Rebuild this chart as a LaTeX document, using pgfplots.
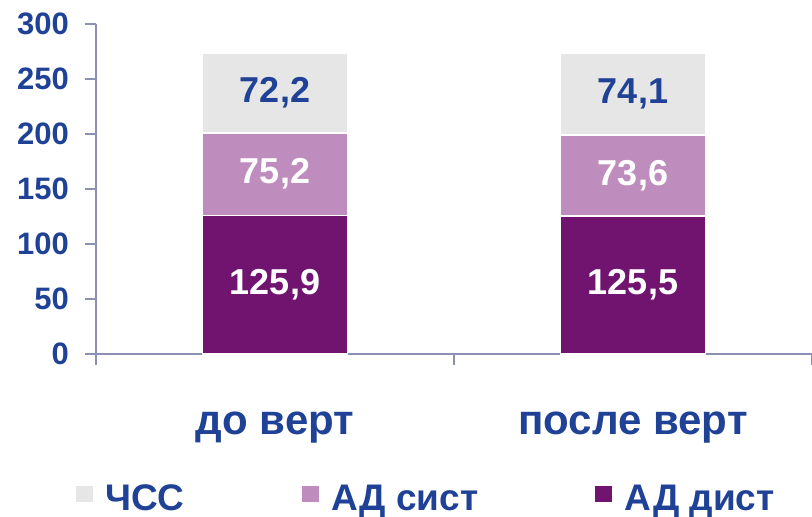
\documentclass[border=0pt]{standalone}
\usepackage{fontspec}
\setmainfont{Liberation Sans}
\usepackage{pgfplots}
\pgfplotsset{compat=1.18}

\definecolor{hrc}{HTML}{E6E6E6}
\definecolor{sysc}{HTML}{BE8DBE}
\definecolor{diac}{HTML}{701470}
\definecolor{txtc}{HTML}{1F4196}
\definecolor{axc}{HTML}{8C90B4}

\begin{document}
\begin{tikzpicture}
\begin{axis}[
    name=ax,
    scale only axis,
    width=716pt, height=330pt,
    ybar stacked, bar width=145pt,
    xmin=0, xmax=2, ymin=0, ymax=300,
    axis x line*=bottom, axis y line*=left,
    axis line style={axc, line width=1.5pt},
    tick style={axc, line width=1.5pt},
    tick align=outside, major tick length=11pt,
    ytick={0,50,...,300},
    xtick={0,1,2}, xticklabels={,,},
    extra x ticks={0.5,1.5},
    extra x tick labels={до верт, после верт},
    extra x tick style={major tick length=0pt,
        xticklabel style={inner sep=0pt, yshift=-58pt,
            font=\fontsize{42}{42}\selectfont\bfseries, text=txtc}},
    yticklabel style={inner sep=0pt, xshift=-16pt,
        font=\fontsize{31}{31}\selectfont\bfseries, text=txtc},
    /pgf/number format/assume math mode=true,
    point meta=rawy,
    nodes near coords={\pgfmathprintnumber[fixed,precision=1,fixed zerofill,use comma]{\pgfplotspointmeta}},
    every node near coord/.append style={anchor=center,
        font=\fontsize{36}{36}\selectfont\bfseries},
    legend columns=3, reverse legend,
    legend style={draw=none, fill=none, inner sep=0pt,
        at={(axis description cs:0.461,-0.437)}, anchor=center,
        font=\fontsize{37}{37}\selectfont\bfseries, text=txtc,
        /tikz/every even column/.append style={column sep=115pt}},
    legend image code/.code={\path[#1, draw=none] (0pt,-4pt) rectangle (17pt,12pt);
        \path (17pt,0pt) -- (27pt,0pt);},
]
\addplot[fill=diac, draw=white, line width=1.5pt,
    every node near coord/.append style={text=white}]
    coordinates {(0.5,125.9) (1.5,125.5)};
\addplot[fill=sysc, draw=white, line width=1.5pt,
    every node near coord/.append style={text=white}]
    coordinates {(0.5,75.2) (1.5,73.6)};
\addplot[fill=hrc, draw=white, line width=1.5pt,
    every node near coord/.append style={text=txtc}]
    coordinates {(0.5,72.2) (1.5,74.1)};
\legend{АД дист, АД сист, ЧСС}
\end{axis}
\pgfresetboundingbox
\path ([shift={(-96pt,-162pt)}]ax.south west) rectangle ([shift={(0pt,24pt)}]ax.north east);
\end{tikzpicture}
\end{document}
